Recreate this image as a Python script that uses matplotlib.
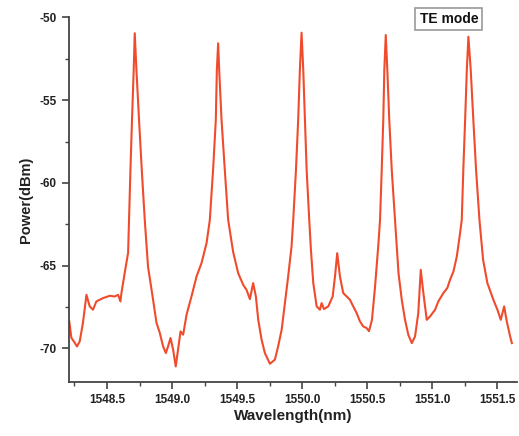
import matplotlib
matplotlib.use("Agg")
import matplotlib.pyplot as plt
from matplotlib.ticker import MultipleLocator, FormatStrFormatter

wavelength = [
    1548.210, 1548.226, 1548.252, 1548.269, 1548.290, 1548.315, 1548.342, 1548.367,
    1548.392, 1548.418, 1548.469, 1548.521, 1548.559, 1548.585, 1548.603, 1548.611,
    1548.636, 1548.662, 1548.669, 1548.680, 1548.692, 1548.705, 1548.713, 1548.726,
    1548.746, 1548.767, 1548.790, 1548.815, 1548.854, 1548.880, 1548.905, 1548.931,
    1548.952, 1548.969, 1548.988, 1549.008, 1549.028, 1549.046, 1549.065, 1549.085,
    1549.111, 1549.149, 1549.188, 1549.226, 1549.265, 1549.290, 1549.315, 1549.336,
    1549.344, 1549.354, 1549.362, 1549.380, 1549.405, 1549.431, 1549.469, 1549.508,
    1549.546, 1549.572, 1549.598, 1549.623, 1549.644, 1549.662, 1549.688, 1549.713,
    1549.752, 1549.790, 1549.815, 1549.842, 1549.867, 1549.892, 1549.918, 1549.931,
    1549.952, 1549.969, 1549.982, 1549.995, 1550.008, 1550.021, 1550.034, 1550.054,
    1550.067, 1550.085, 1550.111, 1550.136, 1550.149, 1550.167, 1550.200, 1550.234,
    1550.252, 1550.269, 1550.290, 1550.315, 1550.342, 1550.367, 1550.392, 1550.418,
    1550.444, 1550.469, 1550.495, 1550.513, 1550.536, 1550.559, 1550.585, 1550.598,
    1550.611, 1550.623, 1550.631, 1550.642, 1550.654, 1550.669, 1550.688, 1550.713,
    1550.740, 1550.765, 1550.790, 1550.815, 1550.842, 1550.867, 1550.892, 1550.911,
    1550.931, 1550.957, 1550.982, 1551.021, 1551.046, 1551.085, 1551.115, 1551.136,
    1551.162, 1551.188, 1551.213, 1551.226, 1551.238, 1551.252, 1551.265, 1551.277,
    1551.295, 1551.315, 1551.336, 1551.362, 1551.390, 1551.423, 1551.469, 1551.500,
    1551.526, 1551.552, 1551.572, 1551.598, 1551.611,
]
power = [
    -68.38, -69.37, -69.67, -69.89, -69.59, -68.46, -66.77, -67.47,
    -67.67, -67.17, -66.97, -66.83, -66.87, -66.77, -67.17, -66.65,
    -65.44, -64.23, -62.24, -59.21, -56.19, -53.17, -50.95, -53.17,
    -56.19, -59.21, -62.24, -65.06, -67.07, -68.46, -69.06, -69.89,
    -70.29, -69.89, -69.38, -70.09, -71.10, -70.09, -68.98, -69.18,
    -67.98, -66.87, -65.66, -64.85, -63.64, -62.24, -59.21, -56.19,
    -53.17, -51.56, -53.17, -56.19, -59.21, -62.24, -64.17, -65.46,
    -66.16, -66.47, -67.03, -66.06, -66.87, -68.28, -69.49, -70.29,
    -70.94, -70.69, -69.89, -68.88, -67.27, -65.66, -63.85, -62.24,
    -59.21, -56.19, -53.17, -50.92, -53.17, -56.19, -59.21, -62.24,
    -64.05, -66.06, -67.47, -67.67, -67.27, -67.63, -67.47, -66.87,
    -65.66, -64.25, -65.66, -66.66, -66.87, -67.07, -67.47, -67.87,
    -68.38, -68.68, -68.78, -68.97, -68.28, -66.34, -63.75, -62.24,
    -59.21, -56.19, -53.17, -51.06, -53.17, -56.19, -59.21, -62.24,
    -65.46, -67.07, -68.28, -69.18, -69.69, -69.29, -67.87, -65.26,
    -66.66, -68.28, -68.08, -67.67, -67.17, -66.66, -66.36, -65.86,
    -65.36, -64.45, -63.04, -62.24, -59.21, -56.19, -53.17, -51.16,
    -53.17, -56.19, -59.21, -62.24, -64.65, -66.06, -67.07, -67.67,
    -68.28, -67.47, -68.38, -69.29, -69.69,
]

x_ticks = [1548.5, 1549.0, 1549.5, 1550.0, 1550.5, 1551.0, 1551.5]
y_ticks = [-50, -55, -60, -65, -70]

plt.rcParams['font.family'] = ['Liberation Sans', 'DejaVu Sans']
plt.rcParams['axes.unicode_minus'] = False

fig = plt.figure(figsize=(5.19, 4.36), dpi=100)
ax = fig.add_axes([0.1335, 0.1239, 0.8625, 0.836])

ax.plot(wavelength, power, color='#f04b2c', linewidth=1.5)

ax.set_xlim(1548.21, 1551.65)
ax.set_ylim(-72.04, -50)

ax.set_xticks(x_ticks)
ax.set_yticks(y_ticks)
ax.xaxis.set_minor_locator(MultipleLocator(0.25))
ax.yaxis.set_minor_locator(MultipleLocator(2.5))
ax.xaxis.set_major_formatter(FormatStrFormatter('%.1f'))

for s in ['top', 'right']:
    ax.spines[s].set_visible(False)
for s in ['left', 'bottom']:
    ax.spines[s].set_color('#444444')
    ax.spines[s].set_linewidth(1.3)

ax.tick_params(axis='both', which='major', direction='out', length=5, width=1.2,
               color='#444444', labelsize=8.5, pad=4)
ax.tick_params(axis='both', which='minor', direction='out', length=3, width=1.0,
               color='#444444')
for lab in ax.get_xticklabels() + ax.get_yticklabels():
    lab.set_fontweight('bold')
    lab.set_color('#222222')

ax.set_xlabel('Wavelength(nm)', fontsize=11, fontweight='bold', color='#222222', labelpad=2)
ax.set_ylabel('Power(dBm)', fontsize=10.5, fontweight='bold', color='#222222', labelpad=5)

fig.text(0.865, 0.957, 'TE mode', fontsize=10, fontweight='bold', color='#111111',
         ha='center', va='center',
         bbox=dict(boxstyle='square,pad=0.3', facecolor='white', edgecolor='#999999',
                   linewidth=1.2))

fig.savefig('out.png', dpi=100)
